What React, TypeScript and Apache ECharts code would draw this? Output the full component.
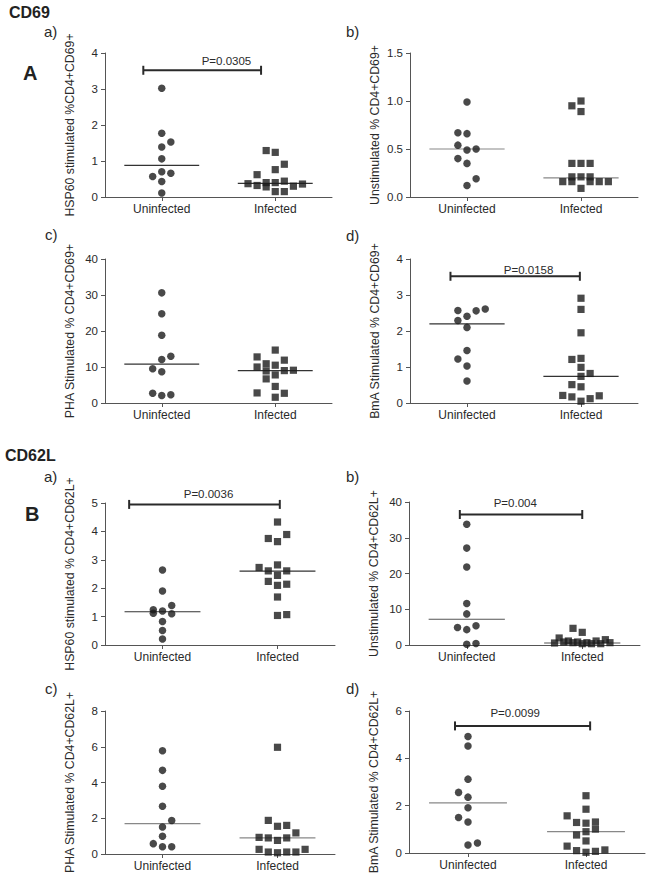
import React, { useEffect, useRef } from 'react';
import * as echarts from 'echarts';

const categories = ['Uninfected', 'Infected'];

// ---- CD69 ----
// a) HSP60 stimulated
const cd69HspUninf = [3.02, 1.77, 1.53, 1.39, 1.06, 0.57, 0.70, 0.66, 0.43, 0.11];
const cd69HspUninfSlot = [0, 0, 1, 0, 0, -1, 0, 1, 0, 0];
const cd69HspInf = [1.29, 1.24, 0.91, 0.76, 0.62, 0.37, 0.32, 0.40, 0.28, 0.40, 0.44, 0.30, 0.36, 0.15, 0.15];
const cd69HspInfSlot = [-1, 0, 1, 0, -2, -3, -2, -1, -1, 0, 1, 2, 3, 0, 1];
const cd69HspMedian = [0.88, 0.38];
// b) Unstimulated
const cd69UnsUninf = [0.99, 0.67, 0.66, 0.54, 0.49, 0.50, 0.40, 0.35, 0.19, 0.12];
const cd69UnsUninfSlot = [0, -1, 0, -1, 0, 1, -1, 0, 1, 0];
const cd69UnsInf = [1.00, 0.95, 0.89, 0.35, 0.35, 0.35, 0.21, 0.21, 0.21, 0.16, 0.16, 0.16, 0.16, 0.16, 0.09];
const cd69UnsInfSlot = [0, -1, 0, -1, 0, 1, -1, 0, 1, -2, -1, 1, 2, 3, 0];
const cd69UnsMedian = [0.50, 0.20];
// c) PHA stimulated
const cd69PhaUninf = [30.6, 24.8, 18.8, 12.1, 13.0, 9.5, 8.7, 2.7, 2.1, 2.3];
const cd69PhaUninfSlot = [0, 0, 0, 0, 1, -1, 0, -1, 0, 1];
const cd69PhaInf = [14.7, 12.8, 11.9, 10.9, 10.0, 10.5, 8.9, 9.0, 9.1, 7.8, 6.7, 4.6, 2.8, 2.7, 1.6];
const cd69PhaInfSlot = [0, -2, 1, -1, -2, 0, -1, 1, 2, 0, -1, 0, -2, 1, 0];
const cd69PhaMedian = [10.8, 9.0];
// d) BmA stimulated
const cd69BmaUninf = [2.57, 2.56, 2.61, 2.41, 2.29, 2.10, 1.46, 1.22, 1.03, 0.61];
const cd69BmaUninfSlot = [-1, 1, 2, 0, -1, 0, 0, -1, 0, 0];
const cd69BmaInf = [2.91, 2.60, 1.95, 1.21, 1.24, 0.99, 0.82, 0.74, 0.51, 0.45, 0.21, 0.17, 0.05, 0.12, 0.20];
const cd69BmaInfSlot = [0, 0, 0, -1, 0, 0, 1, 0, -1, 0, -2, -1, 0, 1, 2];
const cd69BmaMedian = [2.20, 0.74];

// ---- CD62L ----
// a) HSP60 stimulated
const cd62HspUninf = [2.64, 1.90, 1.39, 1.24, 1.12, 1.20, 1.10, 0.83, 0.51, 0.21];
const cd62HspUninfSlot = [0, 0, 1, -1, -1, 0, 1, 0, 0, 0];
const cd62HspInf = [4.33, 3.89, 3.75, 3.64, 2.82, 2.73, 2.61, 2.61, 2.45, 2.24, 2.10, 2.14, 1.69, 1.04, 1.07];
const cd62HspInfSlot = [0, 1, -1, 0, 0, -2, -1, 1, 0, -1, 0, 1, 0, 0, 1];
const cd62HspMedian = [1.17, 2.60];
// b) Unstimulated
const cd62UnsUninf = [33.8, 27.1, 21.8, 11.6, 8.7, 4.9, 4.3, 5.4, 0.2, 0.4];
const cd62UnsUninfSlot = [0, 0, 0, 0, 0, -1, 0, 1, 0, 1];
const cd62UnsInf = [4.66, 3.54, 0.56, 1.96, 0.84, 1.12, 0.65, 0.84, 0.37, 0.65, 0.37, 1.12, 0.37, 1.49, 0.65];
const cd62UnsInfSlot = [-1, 0, -3, -2.5, -2, -1.5, -1, -0.5, 0, 0.5, 1, 1.5, 2, 2.5, 3];
const cd62UnsMedian = [7.2, 0.56];
// c) PHA stimulated
const cd62PhaUninf = [5.78, 4.68, 3.79, 2.67, 1.87, 1.51, 0.99, 0.58, 0.41, 0.41];
const cd62PhaUninfSlot = [0, 0, 0, 0, 1, 0, 0, -1, 0, 1];
const cd62PhaInf = [5.97, 1.88, 1.55, 1.60, 1.18, 0.93, 0.90, 0.76, 0.90, 0.26, 0.11, 0.07, 0.11, 0.11, 0.26];
const cd62PhaInfSlot = [0, -1, 0, 1, 2, -2, -1, 0, 1, -2, -1, 0, 1, 2, 3];
const cd62PhaMedian = [1.70, 0.90];
// d) BmA stimulated
const cd62BmaUninf = [4.92, 4.52, 3.12, 2.56, 2.36, 1.91, 1.50, 1.31, 0.34, 0.42];
const cd62BmaUninfSlot = [0, 0, 0, -1, 0, 0, -1, 0, 0, 1];
const cd62BmaInf = [2.42, 1.85, 1.57, 1.29, 1.26, 1.31, 1.01, 0.90, 0.76, 0.51, 0.29, 0.10, 0.03, 0.07, 0.13];
const cd62BmaInfSlot = [0, 0, -2, -1, 0, 1, 1, 0, -1, 0, -2, -1, 0, 1, 2];
const cd62BmaMedian = [2.12, 0.90];

// y-axis tick settings [max, interval]
const yTicks = {
  cd69Hsp: [4, 1], cd69Uns: [1.5, 0.5], cd69Pha: [40, 10], cd69Bma: [4, 1],
  cd62Hsp: [5, 1], cd62Uns: [40, 10], cd62Pha: [8, 2], cd62Bma: [6, 2],
};

const pLabels = {
  cd69Hsp: 'P=0.0305', cd69Bma: 'P=0.0158',
  cd62Hsp: 'P=0.0036', cd62Uns: 'P=0.004', cd62Bma: 'P=0.0099',
};

const categoryX = [1, 3];
const SLOT = 0.16;
const MEDIAN_HALF = 0.66;
const FONT = '"Liberation Sans", Arial, Helvetica, sans-serif';
const AXIS_COLOR = '#555';
const TEXT_COLOR = '#2a2a2a';
const DOT_COLOR = '#1c1c1c';

const panels: any[] = [
  {
    tag: 'a)', tagPos: [44, 33], grid: { left: 105, top: 53, width: 227, height: 144 },
    ticks: yTicks.cd69Hsp, dec: 0, name: 'HSP60 stimulated %CD4+CD69+',
    u: cd69HspUninf, us: cd69HspUninfSlot, i: cd69HspInf, is: cd69HspInfSlot, med: cd69HspMedian,
    medColor: '#333', p: { label: pLabels.cd69Hsp, x1: 0.675, x2: 2.75, y: 3.52, tx: 2.14, ty: 3.78 },
  },
  {
    tag: 'b)', tagPos: [346, 33], grid: { left: 410, top: 53, width: 228, height: 144 },
    ticks: yTicks.cd69Uns, dec: 1, name: 'Unstimulated % CD4+CD69+',
    u: cd69UnsUninf, us: cd69UnsUninfSlot, i: cd69UnsInf, is: cd69UnsInfSlot, med: cd69UnsMedian,
    medColor: '#888', p: null,
  },
  {
    tag: 'c)', tagPos: [45, 236], grid: { left: 105, top: 259, width: 227, height: 144 },
    ticks: yTicks.cd69Pha, dec: 0, name: 'PHA Stimulated % CD4+CD69+',
    u: cd69PhaUninf, us: cd69PhaUninfSlot, i: cd69PhaInf, is: cd69PhaInfSlot, med: cd69PhaMedian,
    medColor: '#333', p: null,
  },
  {
    tag: 'd)', tagPos: [346, 237], grid: { left: 410, top: 259, width: 228, height: 144 },
    ticks: yTicks.cd69Bma, dec: 0, name: 'BmA Stimulated % CD4+CD69+',
    u: cd69BmaUninf, us: cd69BmaUninfSlot, i: cd69BmaInf, is: cd69BmaInfSlot, med: cd69BmaMedian,
    medColor: '#333', p: { label: pLabels.cd69Bma, x1: 0.71, x2: 2.98, y: 3.52, tx: 2.08, ty: 3.7 },
  },
  {
    tag: 'a)', tagPos: [44, 478], grid: { left: 105, top: 503, width: 230, height: 142 },
    ticks: yTicks.cd62Hsp, dec: 0, name: 'HSP60 stimulated % CD4+CD62L+',
    u: cd62HspUninf, us: cd62HspUninfSlot, i: cd62HspInf, is: cd62HspInfSlot, med: cd62HspMedian,
    medColor: '#333', p: { label: pLabels.cd62Hsp, x1: 0.42, x2: 3.04, y: 4.95, tx: 1.8, ty: 5.33 },
  },
  {
    tag: 'b)', tagPos: [346, 478], grid: { left: 409, top: 502, width: 231, height: 143 },
    ticks: yTicks.cd62Uns, dec: 0, name: 'Unstimulated % CD4+CD62L+',
    u: cd62UnsUninf, us: cd62UnsUninfSlot, i: cd62UnsInf, is: cd62UnsInfSlot, med: cd62UnsMedian,
    medColor: '#555', p: { label: pLabels.cd62Uns, x1: 0.88, x2: 3.0, y: 36.5, tx: 1.84, ty: 39.7 },
  },
  {
    tag: 'c)', tagPos: [45, 690], grid: { left: 105, top: 711, width: 230, height: 143 },
    ticks: yTicks.cd62Pha, dec: 0, name: 'PHA Stimulated % CD4+CD62L+',
    u: cd62PhaUninf, us: cd62PhaUninfSlot, i: cd62PhaInf, is: cd62PhaInfSlot, med: cd62PhaMedian,
    medColor: '#888', p: null,
  },
  {
    tag: 'd)', tagPos: [346, 690], grid: { left: 409, top: 711, width: 236, height: 142 },
    ticks: yTicks.cd62Bma, dec: 0, name: 'BmA Stimulated % CD4+CD62L+',
    u: cd62BmaUninf, us: cd62BmaUninfSlot, i: cd62BmaInf, is: cd62BmaInfSlot, med: cd62BmaMedian,
    medColor: '#888', p: { label: pLabels.cd62Bma, x1: 0.78, x2: 3.07, y: 5.37, tx: 1.8, ty: 5.9 },
  },
];

function buildOption() {
  const grid: any[] = [];
  const xAxis: any[] = [];
  const yAxis: any[] = [];
  const series: any[] = [];
  const graphic: any[] = [];

  panels.forEach((p, k) => {
    grid.push({ ...p.grid, containLabel: false });
    xAxis.push({
      gridIndex: k, type: 'value', min: 0, max: 4,
      axisLine: { show: true, onZero: false, lineStyle: { color: AXIS_COLOR, width: 1 } },
      axisTick: { show: true, customValues: categoryX, length: 4, lineStyle: { color: AXIS_COLOR } },
      axisLabel: {
        customValues: categoryX, margin: 6, fontSize: 12, color: TEXT_COLOR, fontFamily: FONT,
        formatter: (v: number) => (Math.abs(v - categoryX[0]) < 1e-6 ? categories[0] : categories[1]),
      },
      splitLine: { show: false },
    });
    yAxis.push({
      gridIndex: k, type: 'value', min: 0, max: p.ticks[0], interval: p.ticks[1],
      name: p.name, nameLocation: 'middle', nameGap: 29, nameRotate: 90,
      nameTextStyle: { fontSize: 12.3, color: TEXT_COLOR, fontFamily: FONT },
      axisLine: { show: true, onZero: false, lineStyle: { color: AXIS_COLOR, width: 1 } },
      axisTick: { show: true, length: 4, lineStyle: { color: AXIS_COLOR } },
      axisLabel: {
        margin: 7, fontSize: 11.5, color: TEXT_COLOR, fontFamily: FONT,
        formatter: (v: number) => v.toFixed(p.dec),
      },
      splitLine: { show: false },
    });

    // median lines
    series.push({
      type: 'custom', xAxisIndex: k, yAxisIndex: k, z: 1, silent: true,
      data: [[categoryX[0], p.med[0]], [categoryX[1], p.med[1]]],
      renderItem: (params: any, api: any) => {
        const x = api.value(0);
        const y = api.value(1);
        const a = api.coord([x - MEDIAN_HALF, y]);
        const b = api.coord([x + MEDIAN_HALF, y]);
        return {
          type: 'line',
          shape: { x1: a[0], y1: a[1], x2: b[0], y2: b[1] },
          style: { stroke: p.medColor, lineWidth: 1.2 },
        };
      },
    });

    series.push({
      type: 'scatter', xAxisIndex: k, yAxisIndex: k, z: 3, symbol: 'circle', symbolSize: 7.5,
      itemStyle: { color: DOT_COLOR },
      data: p.u.map((v: number, j: number) => [categoryX[0] + p.us[j] * SLOT, v]),
    });
    series.push({
      type: 'scatter', xAxisIndex: k, yAxisIndex: k, z: 3, symbol: 'rect', symbolSize: 7.2,
      itemStyle: { color: DOT_COLOR },
      data: p.i.map((v: number, j: number) => [categoryX[1] + p.is[j] * SLOT, v]),
    });

    if (p.p) {
      const pp = p.p;
      series.push({
        type: 'custom', xAxisIndex: k, yAxisIndex: k, z: 4, silent: true,
        data: [[pp.x1, pp.y, pp.x2, pp.tx, pp.ty]],
        renderItem: (params: any, api: any) => {
          const a = api.coord([api.value(0), api.value(1)]);
          const b = api.coord([api.value(2), api.value(1)]);
          const t = api.coord([api.value(3), api.value(4)]);
          const st = { stroke: '#2a2a2a', lineWidth: 2 };
          return {
            type: 'group',
            children: [
              { type: 'line', shape: { x1: a[0], y1: a[1], x2: b[0], y2: b[1] }, style: st },
              { type: 'line', shape: { x1: a[0], y1: a[1] - 4.5, x2: a[0], y2: a[1] + 4.5 }, style: st },
              { type: 'line', shape: { x1: b[0], y1: b[1] - 4.5, x2: b[0], y2: b[1] + 4.5 }, style: st },
              {
                type: 'text', x: t[0], y: t[1],
                style: {
                  text: pp.label, fill: TEXT_COLOR, fontSize: 11.5, fontFamily: FONT,
                  align: 'center', verticalAlign: 'middle',
                },
              },
            ],
          };
        },
      });
    }

    graphic.push({
      type: 'text', left: p.tagPos[0], top: p.tagPos[1] - 9,
      style: { text: p.tag, fontSize: 15, fill: TEXT_COLOR, fontFamily: FONT },
    });
  });

  graphic.push(
    { type: 'text', left: 9, top: 4, style: { text: 'CD69', fontSize: 16, fontWeight: 'bold', fill: '#222', fontFamily: FONT } },
    { type: 'text', left: 23, top: 63, style: { text: 'A', fontSize: 20, fontWeight: 'bold', fill: '#222', fontFamily: FONT } },
    { type: 'text', left: 5, top: 447, style: { text: 'CD62L', fontSize: 16, fontWeight: 'bold', fill: '#222', fontFamily: FONT } },
    { type: 'text', left: 25, top: 504, style: { text: 'B', fontSize: 20, fontWeight: 'bold', fill: '#222', fontFamily: FONT } },
  );

  return {
    animation: false,
    backgroundColor: '#ffffff',
    textStyle: { fontFamily: FONT },
    grid, xAxis, yAxis, series, graphic,
  };
}

export default function App() {
  const ref = useRef<HTMLDivElement>(null);
  useEffect(() => {
    if (!ref.current) return;
    const chart = echarts.init(ref.current, undefined, { renderer: 'svg' });
    chart.setOption(buildOption() as any);
    return () => chart.dispose();
  }, []);
  return (
    <div
      ref={ref}
      style={{ position: 'fixed', left: 0, top: 0, width: 651, height: 878, background: '#fff' }}
    />
  );
}
